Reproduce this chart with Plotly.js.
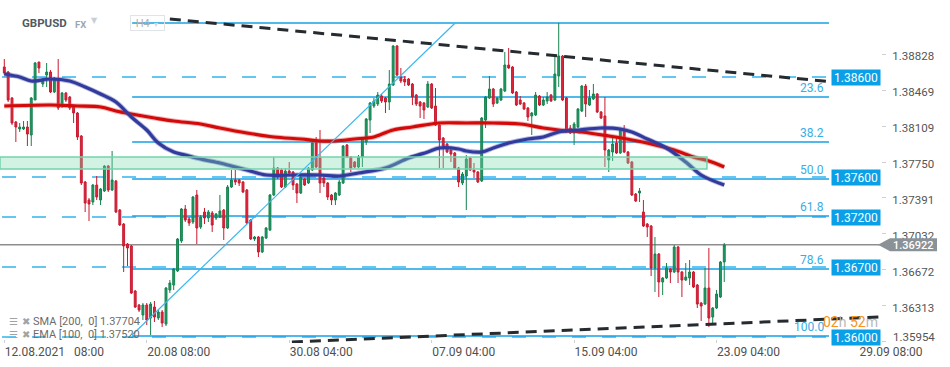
<!DOCTYPE html>
<html><head><meta charset="utf-8">
<script src="https://cdn.plot.ly/plotly-3.0.1.min.js"></script>
<style>html,body{margin:0;padding:0;background:#fff}#chart{width:950px;height:367px}</style>
</head><body><div id="chart"></div>
<script>
// ---- H4 candles, GBPUSD (index 0 = 12.08.2021 08:00) ----
const open=[1.3870,1.3865,1.3839,1.3815,1.3808,1.3808,1.3810,1.3802,1.3837,1.3875,
1.3853,1.3862,1.3865,1.3845,1.3858,1.3831,1.3844,1.3840,1.3830,1.3824,
1.3801,1.3755,1.3737,1.3735,1.3752,1.3737,1.3746,1.3771,1.3747,1.3756,
1.3727,1.3713,1.3693,1.3691,1.3646,1.3632,1.3622,1.3632,1.3619,1.3630,
1.3619,1.3625,1.3613,1.3647,1.3652,1.3666,1.3696,1.3728,1.3718,1.3715,
1.3742,1.3710,1.3725,1.3719,1.3724,1.3719,1.3720,1.3727,1.3709,1.3750,
1.3757,1.3757,1.3755,1.3747,1.3717,1.3698,1.3700,1.3685,1.3699,1.3707,
1.3742,1.3769,1.3767,1.3750,1.3766,1.3765,1.3753,1.3744,1.3758,1.3754,
1.3767,1.3794,1.3780,1.3759,1.3754,1.3742,1.3737,1.3742,1.3754,1.3792,
1.3780,1.3775,1.3770,1.3780,1.3795,1.3817,1.3831,1.3833,1.3841,1.3839,
1.3835,1.3852,1.3891,1.3860,1.3858,1.3858,1.3853,1.3842,1.3835,1.3834,
1.3830,1.3853,1.3831,1.3812,1.3799,1.3793,1.3787,1.3784,1.3769,1.3754,
1.3761,1.3779,1.3767,1.3765,1.3756,1.3817,1.3839,1.3848,1.3834,1.3837,
1.3846,1.3872,1.3870,1.3845,1.3837,1.3834,1.3829,1.3821,1.3822,1.3841,
1.3832,1.3836,1.3842,1.3837,1.3861,1.3881,1.3839,1.3809,1.3804,1.3810,
1.3826,1.3851,1.3832,1.3838,1.3843,1.3825,1.3821,1.3777,1.3785,1.3794,
1.3784,1.3807,1.3785,1.3775,1.3743,1.3744,1.3725,1.3713,1.3711,1.3669,
1.3683,1.3655,1.3659,1.3668,1.3665,1.3690,1.3665,1.3657,1.3659,1.3665,
1.3652,1.3634,1.3633,1.3649,1.3620,1.3629,1.3640,1.3675];
const high=[1.3878,1.3866,1.3840,1.3816,1.3814,1.3816,1.3816,1.3840,1.3875,1.3875,
1.3859,1.3874,1.3867,1.3860,1.3878,1.3845,1.3845,1.3841,1.3831,1.3825,
1.3802,1.3756,1.3739,1.3753,1.3761,1.3749,1.3772,1.3772,1.3786,1.3757,
1.3728,1.3714,1.3694,1.3692,1.3647,1.3633,1.3634,1.3634,1.3635,1.3636,
1.3627,1.3627,1.3650,1.3657,1.3669,1.3699,1.3729,1.3732,1.3720,1.3741,
1.3747,1.3722,1.3729,1.3727,1.3726,1.3724,1.3742,1.3728,1.3752,1.3767,
1.3767,1.3758,1.3756,1.3748,1.3718,1.3701,1.3701,1.3701,1.3710,1.3743,
1.3780,1.3770,1.3769,1.3769,1.3775,1.3766,1.3754,1.3762,1.3759,1.3770,
1.3795,1.3800,1.3807,1.3762,1.3755,1.3743,1.3745,1.3757,1.3792,1.3793,
1.3781,1.3776,1.3782,1.3800,1.3819,1.3835,1.3839,1.3845,1.3843,1.3840,
1.3867,1.3892,1.3892,1.3869,1.3861,1.3859,1.3854,1.3843,1.3836,1.3835,
1.3856,1.3854,1.3849,1.3813,1.3800,1.3794,1.3788,1.3785,1.3770,1.3765,
1.3782,1.3780,1.3774,1.3766,1.3820,1.3841,1.3861,1.3849,1.3840,1.3849,
1.3885,1.3889,1.3871,1.3846,1.3841,1.3835,1.3830,1.3825,1.3845,1.3842,
1.3840,1.3845,1.3843,1.3882,1.3914,1.3882,1.3840,1.3812,1.3815,1.3829,
1.3852,1.3853,1.3847,1.3853,1.3844,1.3826,1.3840,1.3788,1.3799,1.3799,
1.3808,1.3812,1.3786,1.3776,1.3744,1.3749,1.3737,1.3714,1.3712,1.3700,
1.3684,1.3660,1.3674,1.3669,1.3692,1.3691,1.3666,1.3674,1.3677,1.3666,
1.3653,1.3635,1.3669,1.3689,1.3630,1.3647,1.3676,1.3694];
const low=[1.3862,1.3835,1.3812,1.3795,1.3805,1.3807,1.3791,1.3791,1.3837,1.3864,
1.3850,1.3850,1.3844,1.3844,1.3827,1.3829,1.3835,1.3827,1.3814,1.3797,
1.3752,1.3725,1.3716,1.3732,1.3737,1.3732,1.3745,1.3745,1.3746,1.3724,
1.3711,1.3665,1.3671,1.3643,1.3629,1.3625,1.3617,1.3612,1.3602,1.3615,
1.3617,1.3610,1.3611,1.3644,1.3647,1.3665,1.3694,1.3715,1.3711,1.3713,
1.3693,1.3708,1.3713,1.3715,1.3705,1.3717,1.3719,1.3697,1.3708,1.3749,
1.3752,1.3751,1.3744,1.3713,1.3697,1.3696,1.3680,1.3684,1.3698,1.3706,
1.3741,1.3758,1.3749,1.3749,1.3763,1.3747,1.3734,1.3743,1.3751,1.3753,
1.3766,1.3769,1.3744,1.3750,1.3737,1.3732,1.3732,1.3741,1.3753,1.3779,
1.3765,1.3769,1.3769,1.3770,1.3792,1.3804,1.3829,1.3831,1.3834,1.3824,
1.3827,1.3851,1.3861,1.3854,1.3851,1.3851,1.3832,1.3831,1.3819,1.3818,
1.3829,1.3828,1.3811,1.3769,1.3769,1.3784,1.3775,1.3768,1.3750,1.3752,
1.3727,1.3766,1.3759,1.3754,1.3755,1.3809,1.3838,1.3830,1.3833,1.3836,
1.3845,1.3868,1.3843,1.3831,1.3832,1.3827,1.3816,1.3802,1.3821,1.3831,
1.3831,1.3833,1.3835,1.3836,1.3850,1.3836,1.3804,1.3803,1.3792,1.3809,
1.3825,1.3820,1.3831,1.3837,1.3824,1.3818,1.3770,1.3765,1.3776,1.3783,
1.3783,1.3784,1.3773,1.3741,1.3735,1.3735,1.3710,1.3700,1.3661,1.3645,
1.3640,1.3642,1.3658,1.3654,1.3664,1.3654,1.3640,1.3656,1.3652,1.3649,
1.3629,1.3616,1.3632,1.3610,1.3612,1.3628,1.3639,1.3655];
const close=[1.3864,1.3837,1.3814,1.3810,1.3810,1.3810,1.3803,1.3839,1.3874,1.3869,
1.3856,1.3865,1.3845,1.3859,1.3829,1.3844,1.3837,1.3829,1.3824,1.3800,
1.3754,1.3734,1.3733,1.3752,1.3740,1.3748,1.3771,1.3747,1.3757,1.3725,
1.3712,1.3691,1.3689,1.3644,1.3630,1.3627,1.3632,1.3617,1.3633,1.3620,
1.3625,1.3614,1.3649,1.3654,1.3668,1.3698,1.3728,1.3717,1.3714,1.3740,
1.3709,1.3720,1.3719,1.3725,1.3712,1.3723,1.3726,1.3709,1.3750,1.3757,
1.3755,1.3754,1.3745,1.3714,1.3698,1.3700,1.3685,1.3700,1.3709,1.3742,
1.3769,1.3760,1.3750,1.3766,1.3764,1.3752,1.3744,1.3760,1.3752,1.3769,
1.3794,1.3770,1.3754,1.3754,1.3740,1.3737,1.3744,1.3755,1.3791,1.3780,
1.3769,1.3770,1.3780,1.3799,1.3818,1.3834,1.3836,1.3842,1.3836,1.3835,
1.3853,1.3891,1.3862,1.3856,1.3855,1.3852,1.3840,1.3833,1.3831,1.3827,
1.3853,1.3829,1.3812,1.3797,1.3791,1.3785,1.3783,1.3769,1.3755,1.3763,
1.3778,1.3767,1.3765,1.3755,1.3819,1.3840,1.3848,1.3833,1.3839,1.3848,
1.3872,1.3869,1.3844,1.3832,1.3833,1.3828,1.3820,1.3824,1.3842,1.3832,
1.3837,1.3840,1.3836,1.3863,1.3881,1.3837,1.3805,1.3804,1.3813,1.3828,
1.3851,1.3833,1.3839,1.3843,1.3825,1.3819,1.3787,1.3787,1.3793,1.3784,
1.3807,1.3785,1.3774,1.3742,1.3736,1.3746,1.3711,1.3710,1.3669,1.3683,
1.3655,1.3659,1.3669,1.3665,1.3690,1.3665,1.3657,1.3660,1.3665,1.3650,
1.3633,1.3631,1.3649,1.3619,1.3629,1.3643,1.3675,1.3692];

// ---- moving averages (candle index, value) ----
const smaIdx=[0,12,19,25,29,33,39,44,51,56,63,70,77,82,86,91,94,96,101,106,113,120,127,134,140,144,150,157,163,168,174,179,183,187];
const smaVal=[1.3831,1.3832,1.3831,1.3830,1.3826,1.3823,1.3819,1.3816,1.3813,1.3809,1.3804,1.3800,1.3798,1.3796,1.3796,1.3798,1.3799,1.3800,1.3807,1.3810,1.3814,1.3814,1.3814,1.3813,1.3809,1.3807,1.3805,1.3801,1.3797,1.3793,1.3787,1.3780,1.3776,1.3770];
const emaIdx=[0,4,7,12,17,21,25,29,33,37,40,44,47,51,56,59,63,68,75,82,87,92,99,105,110,113,118,120,124,127,131,136,140,144,149,155,160,163,167,172,177,181,187];
const emaVal=[1.3863,1.3860,1.3856,1.3858,1.3856,1.3850,1.3843,1.3835,1.3820,1.3807,1.3794,1.3785,1.3782,1.3778,1.3774,1.3771,1.3767,1.3762,1.3762,1.3762,1.3761,1.3764,1.3769,1.3779,1.3785,1.3789,1.3788,1.3786,1.3785,1.3789,1.3794,1.3798,1.3800,1.3805,1.3807,1.3809,1.3808,1.3805,1.3798,1.3789,1.3775,1.3762,1.3752];
const smaLast='1.37704', emaLast='1.37520';

// ---- axes ----
const timeTickIdx=[0,37,74,111,148,185,222];
const timeTickText=['12.08.2021\u00a0\u00a0 08:00','20.08 08:00','30.08 04:00','07.09 04:00','15.09 04:00','23.09 04:00','29.09 08:00'];
const priceTicks=[1.38828,1.38469,1.38109,1.37750,1.37391,1.37032,1.36672,1.36313,1.35954];

// ---- drawings ----
const fibRatios=['0.0','23.6','38.2','50.0','61.8','78.6','100.0'];
const fibLevels=[1.3914,1.3840,1.3795,1.3758,1.3721,1.3668,1.3601];
const fibFrom=33.2, fibTo=214.2;
const keyLevels=[1.38600,1.37600,1.37200,1.36700,1.36000];
const lastPrice=1.36922;
const zoneLow=1.3768, zoneHigh=1.3780, zoneTo=182.5;
const upperTrendX=[43.0,215.3], upperTrendY=[1.3918,1.3855];
const lowerTrendX=[74.7,227.5], lowerTrendY=[1.3595,1.3620];
const fibDiagX=[33.2,117.1], fibDiagY=[1.3602,1.3914];

const X0=-1.117, X1=227.71, Y0=1.3594, Y1=1.3937;
const idx=close.map((_,i)=>i);
const F='Roboto, "Open Sans", sans-serif';

const traces=[
 {type:'candlestick',x:idx,open:open,high:high,low:low,close:close,
  increasing:{line:{color:'#16824f',width:1},fillcolor:'#1f9b65'},
  decreasing:{line:{color:'#c81a30',width:1},fillcolor:'#e0263c'},
  whiskerwidth:0,hoverinfo:'skip',showlegend:false},
 {type:'scatter',mode:'lines',x:smaIdx,y:smaVal,line:{color:'rgba(222,70,70,0.4)',width:5,shape:'spline'},hoverinfo:'skip',showlegend:false},
 {type:'scatter',mode:'lines',x:smaIdx,y:smaVal,line:{color:'#d20a0a',width:3.2,shape:'spline'},hoverinfo:'skip',showlegend:false},
 {type:'scatter',mode:'lines',x:emaIdx,y:emaVal,line:{color:'rgba(70,80,170,0.4)',width:5,shape:'spline'},hoverinfo:'skip',showlegend:false},
 {type:'scatter',mode:'lines',x:emaIdx,y:emaVal,line:{color:'#323b9d',width:3.2,shape:'spline'},hoverinfo:'skip',showlegend:false}
];

const shapes=[];
keyLevels.forEach(v=>shapes.push({type:'line',xref:'x',yref:'y',x0:-0.6,x1:fibTo,y0:v,y1:v,layer:'below',line:{color:'#63c6f3',width:2,dash:'14px,16px'}}));
fibLevels.forEach(v=>shapes.push({type:'line',xref:'x',yref:'y',x0:fibFrom,x1:fibTo,y0:v,y1:v,layer:'below',line:{color:'#17a0e6',width:1.5}}));
shapes.push({type:'line',xref:'paper',yref:'y',x0:0,x1:1,y0:lastPrice,y1:lastPrice,layer:'below',line:{color:'#8e8e8e',width:1.5}});
shapes.push({type:'rect',xref:'x',yref:'y',x0:X0,x1:zoneTo,y0:zoneLow,y1:zoneHigh,layer:'above',fillcolor:'rgba(125,218,178,0.35)',line:{color:'#74d3ab',width:1.5}});
shapes.push({type:'line',xref:'x',yref:'y',x0:fibDiagX[0],x1:fibDiagX[1],y0:fibDiagY[0],y1:fibDiagY[1],layer:'above',line:{color:'#3bb7f0',width:1.2}});
shapes.push({type:'line',xref:'x',yref:'y',x0:upperTrendX[0],x1:upperTrendX[1],y0:upperTrendY[0],y1:upperTrendY[1],layer:'above',line:{color:'#262b30',width:3,dash:'11px,7px'}});
shapes.push({type:'line',xref:'x',yref:'y',x0:lowerTrendX[0],x1:lowerTrendX[1],y0:lowerTrendY[0],y1:lowerTrendY[1],layer:'above',line:{color:'#262b30',width:3,dash:'11px,7px'}});
// current price tag (arrow box)
const h=0.00065, pw=881;
shapes.push({type:'path',xref:'paper',yref:'y',layer:'above',fillcolor:'#8b9297',line:{width:0},
  path:`M ${878/pw},${lastPrice} L ${890/pw},${lastPrice+h} L ${937/pw},${lastPrice+h} L ${937/pw},${lastPrice-h} L ${890/pw},${lastPrice-h} Z`});

const ann=[];
keyLevels.forEach(v=>ann.push({xref:'paper',yref:'y',x:1,xanchor:'right',y:v,yanchor:'middle',text:v.toFixed(5),showarrow:false,
  font:{family:F,size:12,color:'#ffffff'},bgcolor:'#09a0e8',width:46,height:13,borderpad:1}));
ann.push({xref:'paper',yref:'y',x:913/pw,xanchor:'center',y:lastPrice,yanchor:'middle',yshift:-0.5,text:lastPrice.toFixed(5),showarrow:false,font:{family:F,size:11,color:'#ffffff',weight:500}});
fibRatios.forEach((r,k)=>{ if(k>0) ann.push({xref:'x',yref:'y',x:213.4,xanchor:'right',y:fibLevels[k],yanchor:'middle',yshift:9,text:r,showarrow:false,font:{family:F,size:12,color:'#37ade6'}}); });
const py=y=>1-y/343;
// lowest price tick label sits a little higher, as in the platform
ann.push({xref:'paper',yref:'paper',x:1,xshift:10,xanchor:'left',y:py(337),yanchor:'middle',text:priceTicks[priceTicks.length-1].toFixed(5),showarrow:false,font:{family:F,size:11.5,color:'#555'}});
ann.push({xref:'paper',yref:'paper',x:20/pw,xanchor:'left',y:py(23),yanchor:'middle',text:'<b>GBPUSD</b>',showarrow:false,font:{family:F,size:11.5,color:'#4f5a63'}});
ann.push({xref:'paper',yref:'paper',x:73/pw,xanchor:'left',y:py(24),yanchor:'middle',text:'<b>FX</b>',showarrow:false,font:{family:F,size:9.5,color:'#9ba7af'}});
ann.push({xref:'paper',yref:'paper',x:89/pw,xanchor:'left',y:py(21),yanchor:'middle',text:'▼',showarrow:false,font:{family:'DejaVu Sans',size:8,color:'#c8ced2'}});
ann.push({xref:'paper',yref:'paper',x:130/pw,xanchor:'left',y:py(23),yanchor:'middle',text:'H4 <span style="font-size:7px;color:#d3d8db">▼</span>',showarrow:false,
  font:{family:F,size:11,color:'#aab2b8'},bordercolor:'#e0e4e7',borderwidth:1,width:33,height:14,borderpad:0});
ann.push({xref:'paper',yref:'paper',x:7/pw,xanchor:'left',y:py(321),yanchor:'middle',text:'☰',showarrow:false,font:{family:'DejaVu Sans',size:10,color:'#a3a3a3'}});
ann.push({xref:'paper',yref:'paper',x:20/pw,xanchor:'left',y:py(321),yanchor:'middle',text:'✖',showarrow:false,font:{family:'DejaVu Sans',size:10,color:'#a3a3a3'}});
ann.push({xref:'paper',yref:'paper',x:31/pw,xanchor:'left',y:py(321),yanchor:'middle',text:'SMA [200,\u00a0 0] '+smaLast,showarrow:false,font:{family:F,size:11,color:'#6c6c6c'}});
ann.push({xref:'paper',yref:'paper',x:7/pw,xanchor:'left',y:py(334),yanchor:'middle',text:'☰',showarrow:false,font:{family:'DejaVu Sans',size:10,color:'#a3a3a3'}});
ann.push({xref:'paper',yref:'paper',x:20/pw,xanchor:'left',y:py(334),yanchor:'middle',text:'✖',showarrow:false,font:{family:'DejaVu Sans',size:10,color:'#a3a3a3'}});
ann.push({xref:'paper',yref:'paper',x:31/pw,xanchor:'left',y:py(334),yanchor:'middle',text:'EMA [100,\u00a0 0] '+emaLast,showarrow:false,font:{family:F,size:11,color:'#6c6c6c'}});
ann.push({xref:'paper',yref:'paper',x:880/pw,xanchor:'right',y:py(322),yanchor:'middle',
  text:'<span style="color:#f7931e">02</span><span style="color:#b9b9b9">h</span> <span style="color:#f7931e">52</span><span style="color:#b9b9b9">m</span>',showarrow:false,font:{family:F,size:14}});

const layout={width:950,height:367,margin:{l:0,r:69,t:0,b:24},paper_bgcolor:'#fff',plot_bgcolor:'#fff',showlegend:false,
 font:{family:F},
 xaxis:{type:'linear',range:[X0,X1],rangeslider:{visible:false},showgrid:false,zeroline:false,showline:false,
   tickvals:timeTickIdx,ticktext:timeTickText,ticks:'inside',ticklen:3,tickcolor:'#d0d0d0',ticklabelposition:'outside right',
   tickfont:{family:F,size:12,color:'#505050'},fixedrange:true},
 yaxis:{range:[Y0,Y1],side:'right',showgrid:false,zeroline:false,showline:false,tickvals:priceTicks,
   ticktext:priceTicks.map((v,k)=>k===priceTicks.length-1?'':v.toFixed(5)),
   ticks:'outside',ticklen:4,tickcolor:'#cfcfcf',ticklabelstandoff:4,ticklabelshift:2,tickfont:{family:F,size:11.5,color:'#555'},fixedrange:true},
 shapes:shapes,annotations:ann};
Plotly.newPlot('chart',traces,layout,{displayModeBar:false,staticPlot:true});
</script></body></html>
